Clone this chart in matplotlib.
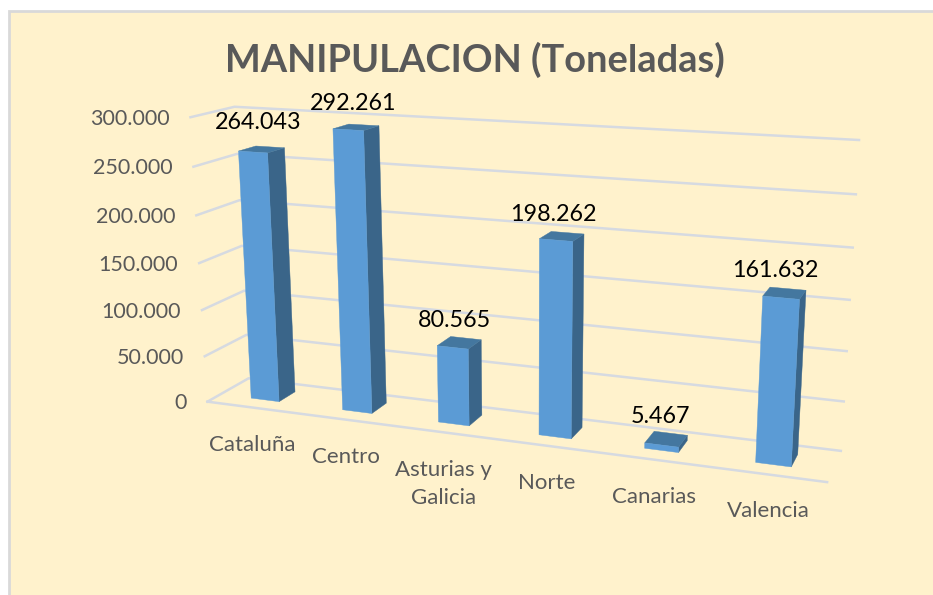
import matplotlib.pyplot as plt
from matplotlib.patches import Polygon, Rectangle
import numpy as np

categories = ['Cataluña', 'Centro', 'Asturias y\nGalicia', 'Norte', 'Canarias', 'Valencia']
values = [264043, 292261, 80565, 198262, 5467, 161632]
ticks = [0, 50000, 100000, 150000, 200000, 250000, 300000]

plt.rcParams['font.family'] = ['Lato', 'DejaVu Sans']

BG = '#FFF2CC'
GRID = '#D6DAE1'
TEXT = '#595959'
FRONT = '#5B9BD5'
SIDE = '#3A6589'
TOP = '#44779F'

# the box of the 3d chart: (category pos, value, depth) -> pixel on the image
# depth 0 is the back wall, depth 1 the front edge of the floor
calib = [
    ((0, 0, 0), (248, 378)),
    ((6, 0, 0), (841, 451)),
    ((0, 300000, 0), (235, 107)),
    ((6, 300000, 0), (859, 140)),
    ((0, 0, 1), (208, 402)),
    ((6, 0, 1), (827, 482)),
    ((0, 300000, 1), (190, 117)),
]

# small nudges of the value labels, in pixels
label_dx = [-3, -2, -4, -8, -5, -9]
label_dy = [-27, -24, -23, -22, -23, -23]


def solve_camera(points):
    rows = []
    for (x, v, z), (px, py) in points:
        w = [x, v / 1e5, z, 1]
        rows.append(w + [0, 0, 0, 0] + [-px * c for c in w])
        rows.append([0, 0, 0, 0] + w + [-py * c for c in w])
    return np.linalg.svd(np.array(rows, dtype=float))[2][-1].reshape(3, 4)


cam = solve_camera(calib)


def project(x, v, z):
    p = cam @ np.array([x, v / 1e5, z, 1.0])
    return p[0] / p[2], p[1] / p[2]


fig = plt.figure(figsize=(9.33, 5.95), dpi=100)
ax = fig.add_axes([0, 0, 1, 1])
ax.set_xlim(0, 933)
ax.set_ylim(595, 0)
ax.axis('off')

# background
ax.add_patch(Rectangle((9, 11), 940, 600, facecolor=BG, edgecolor='#D9D9D9', linewidth=2))

# grid on left wall and back wall
for t in ticks:
    pts = [project(0, t, 1), project(0, t, 0), project(6, t, 0)]
    ax.plot(*zip(*pts), color=GRID, lw=1.8, solid_joinstyle='miter', zorder=1)
    x, y = project(0, t, 1)
    ax.text(x - 21, y + 1.5, f'{t:,}'.replace(',', '.'), ha='right', va='center',
            fontsize=15.5, color=TEXT)
ax.plot(*zip(project(0, 0, 1), project(6, 0, 1)), color=GRID, lw=1.8, zorder=1)

# bars
half = 0.155
z_back, z_front = 0.28, 0.69
for i, (name, val) in enumerate(zip(categories, values)):
    c = i + 0.5
    fl0, fr0 = project(c - half, 0, z_front), project(c + half, 0, z_front)
    fl1, fr1 = project(c - half, val, z_front), project(c + half, val, z_front)
    br0 = project(c + half, 0, z_back)
    br1 = project(c + half, val, z_back)
    bl1 = project(c - half, val, z_back)
    ax.add_patch(Polygon([fr0, br0, br1, fr1], facecolor=SIDE, edgecolor=SIDE, lw=0.3, zorder=2))
    ax.add_patch(Polygon([fl1, fr1, br1, bl1], facecolor=TOP, edgecolor=TOP, lw=0.3, zorder=2))
    ax.add_patch(Polygon([fl0, fr0, fr1, fl1], facecolor=FRONT, edgecolor=FRONT, lw=0.3, zorder=3))

    # value label
    x, y = project(c, val, 0.5)
    ax.text(x + label_dx[i], y + label_dy[i], f'{val:,}'.replace(',', '.'), ha='center',
            va='center', fontsize=16.8, color='black', zorder=4)

    # category label
    x, y = project(c, 0, 1)
    if '\n' in name:
        y += 15
    ax.text(x, y + 37, name, ha='center', va='center', fontsize=16,
            color=TEXT, linespacing=1.5, zorder=4)

ax.text(475, 60, 'MANIPULACION (Toneladas)', ha='center', va='center', fontsize=27.4,
        fontweight='bold', color=TEXT)

fig.savefig('out.png', dpi=100)
